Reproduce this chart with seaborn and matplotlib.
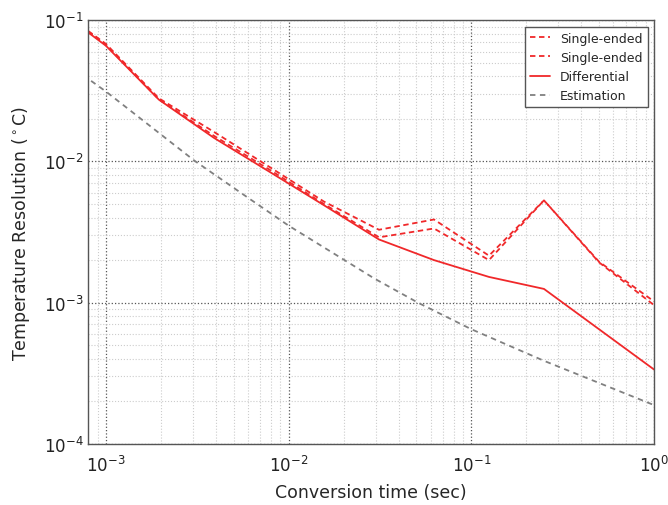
import numpy as np
import pandas as pd
import matplotlib
matplotlib.use("Agg")
import matplotlib.pyplot as plt
import seaborn as sns

# values (log-log)
conv_time = [0.0008, 0.001, 0.00195, 0.0039, 0.0078, 0.0156, 0.03125, 0.0625, 0.125, 0.25, 0.5, 1.0]
single_a = [0.084, 0.068, 0.028, 0.0162, 0.0092, 0.0052, 0.00328, 0.00388, 0.00215, 0.0053, 0.00195, 0.00102]
single_b = [0.083, 0.067, 0.0275, 0.0152, 0.0088, 0.0050, 0.0029, 0.00335, 0.00200, 0.0053, 0.00193, 0.00096]

diff_time = [0.0008, 0.001, 0.00195, 0.0039, 0.0078, 0.0156, 0.03125, 0.0625, 0.125, 0.25, 1.0]
differential = [0.082, 0.066, 0.0274, 0.0147, 0.0085, 0.0049, 0.0028, 0.0020, 0.00152, 0.00125, 0.000336]

est_time = [0.00083, 0.001, 0.00306, 0.00612, 0.01, 0.0295, 0.051, 0.1, 0.25, 1.0]
estimation = [0.0372, 0.0313, 0.0101, 0.00543, 0.00351, 0.00148, 0.001, 0.000648, 0.000387, 0.000188]

sns.set_style("white")
plt.rcParams['font.family'] = ['DejaVu Sans']

fig = plt.figure(figsize=(6.68, 5.06), dpi=100)
ax = fig.add_axes([0.132, 0.121, 0.847, 0.837])

red = '#f0282a'
sns.lineplot(x=conv_time, y=single_a, ax=ax, color=red, dashes=(3, 2), lw=1.3, label='Single-ended')
sns.lineplot(x=conv_time, y=single_b, ax=ax, color=red, dashes=(3, 2), lw=1.3, label='Single-ended')
sns.lineplot(x=diff_time, y=differential, ax=ax, color=red, lw=1.3, label='Differential')
sns.lineplot(x=est_time, y=estimation, ax=ax, color='#808080', dashes=(3, 2.5), lw=1.3, label='Estimation')
# seaborn's dashes kwarg only applies to style mapping, so set directly
lines = ax.get_lines()
for ln in (lines[0], lines[1]):
    ln.set_dashes((3, 2))
lines[3].set_dashes((3, 2.5))

ax.set_xscale('log')
ax.set_yscale('log')
ax.set_xlim(0.0008, 1.0)
ax.set_ylim(1e-4, 1e-1)

ax.grid(True, which='major', color='#555555', linestyle=':', lw=0.9)
ax.grid(True, which='minor', color='#cccccc', linestyle=':', lw=0.8)
ax.tick_params(which='both', direction='in', labelsize=12, colors='#222222')
ax.tick_params(axis='x', pad=8)
for s in ax.spines.values():
    s.set_color('#555555')
    s.set_linewidth(1.0)

ax.set_xlabel('Conversion time (sec)', fontsize=12.5, labelpad=6)
ax.set_ylabel(r'Temperature Resolution ($^\circ$C)', fontsize=12.5, labelpad=8)

leg = ax.legend(loc='upper right', fontsize=9, fancybox=False, framealpha=1,
                edgecolor='#555555', handlelength=1.6, borderaxespad=0.5)
leg.get_frame().set_linewidth(1.0)

fig.savefig('out.png', dpi=100)
